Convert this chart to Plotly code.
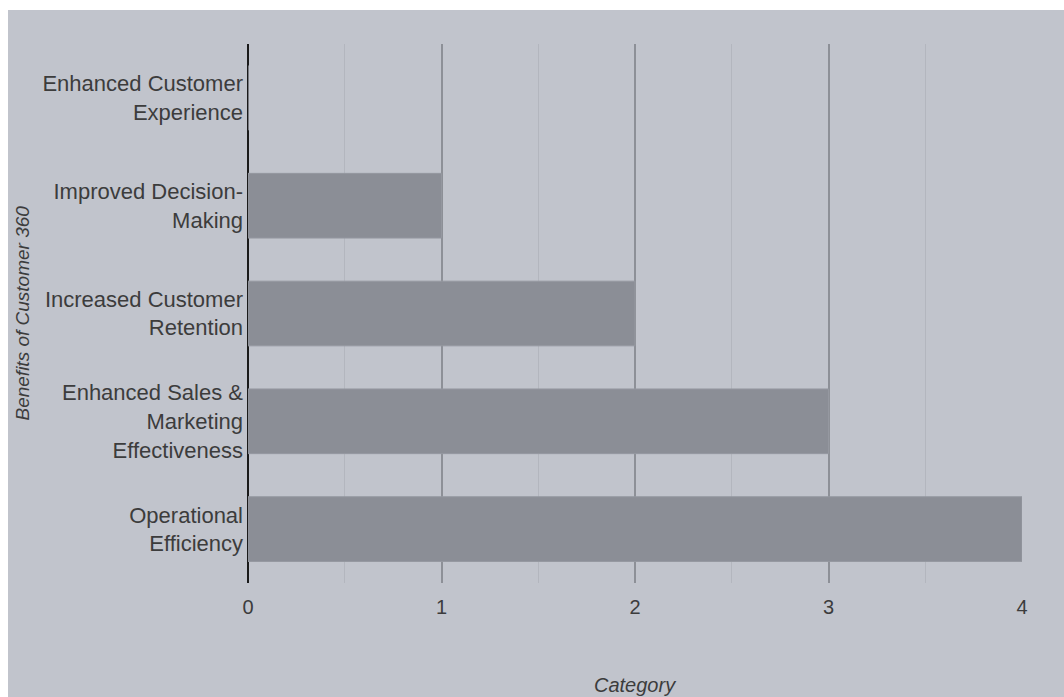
import plotly.graph_objects as go

categories = [
    "Operational<br>Efficiency",
    "Enhanced Sales &<br>Marketing<br>Effectiveness",
    "Increased Customer<br>Retention",
    "Improved Decision-<br>Making",
    "Enhanced Customer<br>Experience",
]
values = [4, 3, 2, 1, 0]
x_ticks = [0, 1, 2, 3, 4]

BG = "#c1c4cc"
BAR = "#8b8e96"
MAJOR = "#8d9097"
MINOR = "#b3b6be"
TXT = "#3c3c3c"
FONT = "Liberation Sans, Arial, sans-serif"

W, H = 1064, 697
L, R, T, B = 248, 42, 44, 114
pw, ph = W - L - R, H - T - B

def px_x(p):
    return (p - L) / pw

def px_y(p):
    return (H - B - p) / ph

fig = go.Figure()
fig.add_trace(go.Bar(
    x=values, y=categories, orientation="h",
    marker=dict(color=BAR, line=dict(color="#9598a0", width=1)),
    showlegend=False,
))

fig.update_layout(
    width=W, height=H,
    margin=dict(l=L, r=R, t=T, b=B, pad=0),
    paper_bgcolor=BG, plot_bgcolor=BG,
    bargap=0.4,
    font=dict(family=FONT, color=TXT, size=20),
    xaxis=dict(
        range=[0, 4], tickvals=x_ticks, ticktext=[str(v) for v in x_ticks],
        showgrid=True, gridcolor=MAJOR, gridwidth=2,
        minor=dict(dtick=0.5, showgrid=True, gridcolor=MINOR, gridwidth=1),
        zeroline=True, zerolinecolor="#1a1a1a", zerolinewidth=2,
        showline=False, ticks="", ticklabelstandoff=10,
        tickfont=dict(size=20, color=TXT),
        fixedrange=True,
    ),
    yaxis=dict(
        categoryorder="array", categoryarray=categories,
        showgrid=False, zeroline=False, showline=False, ticks="",
        ticklabelstandoff=4,
        tickfont=dict(size=22, color=TXT),
    ),
    shapes=[
        dict(type="rect", xref="paper", yref="paper", layer="above",
             x0=px_x(0), x1=px_x(W), y0=px_y(10), y1=px_y(0),
             fillcolor="white", line=dict(width=0)),
        dict(type="rect", xref="paper", yref="paper", layer="above",
             x0=px_x(0), x1=px_x(8), y0=px_y(H), y1=px_y(0),
             fillcolor="white", line=dict(width=0)),
    ],
    annotations=[
        dict(text="<i>Category</i>", xref="paper", yref="paper",
             x=0.5, y=px_y(685), xanchor="center", yanchor="middle",
             showarrow=False, font=dict(size=20, color=TXT)),
        dict(text="<i>Benefits of Customer 360</i>", xref="paper", yref="paper",
             x=px_x(22), y=0.5, xanchor="center", yanchor="middle", textangle=-90,
             showarrow=False, font=dict(size=19, color=TXT)),
    ],
)

fig.write_html("out.html")
